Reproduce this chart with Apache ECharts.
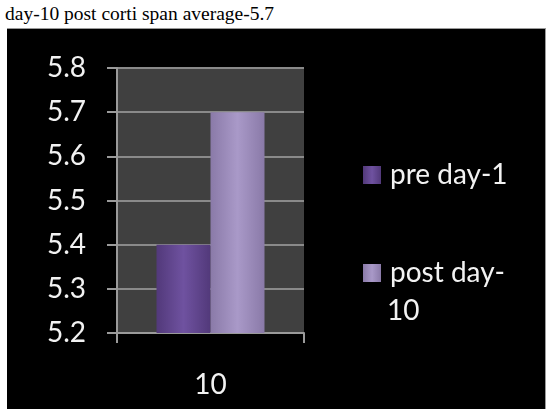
<!DOCTYPE html>
<html>
<head>
<meta charset="utf-8">
<script src="https://cdn.jsdelivr.net/npm/echarts@6/dist/echarts.min.js"></script>
<style>
body { margin: 0; background: #ffffff; }
.caption {
  position: absolute;
  left: 5px;
  top: 3px;
  font-family: 'Liberation Serif', 'DejaVu Serif', serif;
  font-size: 19.5px;
  line-height: 22px;
  color: #000;
  white-space: nowrap;
}
.chart-box {
  position: absolute;
  left: 7px;
  top: 28px;
  width: 539px;
  height: 381px;
  background: #000000;
  border-top: 1px solid #9a9a9a;
  border-right: 1px solid #9a9a9a;
  box-sizing: border-box;
}
</style>
</head>
<body>
<div class="caption">day-10 post corti span average-5.7</div>
<div class="chart-box"><div id="main" style="width: 538px; height: 380px;"></div></div>
<script>
// data
var categories = ['10']
var seriesNames = ['pre day-1', 'post day-10']
var preValues = [5.4]
var postValues = [5.7]
var yTicks = ['5.2', '5.3', '5.4', '5.5', '5.6', '5.7', '5.8']

var labelFont = 'Lato, "Open Sans", "Noto Sans", sans-serif'

// horizontal shading of a bar
function shade (edge, mid) {
  return new echarts.graphic.LinearGradient(0, 0, 1, 0, [
    {offset: 0, color: edge},
    {offset: 0.5, color: mid},
    {offset: 1, color: edge}
  ])
}

var chart = echarts.init(document.getElementById('main'))
chart.setOption({
  backgroundColor: '#000000',
  animation: false,
  grid: {
    left: 110,
    top: 39,
    width: 187,
    height: 265,
    show: true,
    backgroundColor: '#404040',
    borderWidth: 0
  },
  legend: {
    orient: 'vertical',
    left: 351,
    top: 127,
    itemWidth: 18,
    itemHeight: 18,
    itemGap: 70,
    icon: 'rect',
    data: seriesNames,
    formatter: function (name) {
      return name === 'post day-10' ? 'post day-' : name
    },
    textStyle: {
      color: '#f2f2f2',
      fontFamily: labelFont,
      fontSize: 28,
      padding: [0, 0, 0, 4]
    }
  },
  graphic: [{
    type: 'text',
    left: 380,
    top: 268,
    style: {
      text: '10',
      fill: '#f2f2f2',
      font: '28px ' + labelFont
    }
  }],
  xAxis: {
    type: 'category',
    data: categories,
    axisLine: {lineStyle: {color: '#9a9a9a', width: 2}},
    axisTick: {show: true, length: 10, lineStyle: {color: '#9a9a9a', width: 2}},
    axisLabel: {
      color: '#f2f2f2',
      fontFamily: labelFont,
      fontSize: 28,
      margin: 38
    }
  },
  yAxis: {
    type: 'value',
    min: 5.2,
    max: 5.8,
    interval: 0.1,
    axisLine: {show: true, lineStyle: {color: '#9a9a9a', width: 2}},
    axisTick: {show: true, length: 10, lineStyle: {color: '#9a9a9a', width: 2}},
    splitLine: {lineStyle: {color: '#8a8a8a', width: 2}},
    axisLabel: {
      color: '#f2f2f2',
      fontFamily: labelFont,
      fontSize: 28,
      margin: 31,
      formatter: function (v) {
        var s = v.toFixed(1)
        return yTicks.indexOf(s) >= 0 ? s : ''
      }
    }
  },
  series: [
    {
      name: seriesNames[0],
      type: 'bar',
      data: preValues,
      barWidth: 54,
      barGap: '0%',
      itemStyle: {color: shade('#52397a', '#6f52a0')}
    },
    {
      name: seriesNames[1],
      type: 'bar',
      data: postValues,
      barWidth: 54,
      barGap: '0%',
      itemStyle: {color: shade('#8a7aa8', '#a999c8')}
    }
  ]
})
</script>
</body>
</html>
